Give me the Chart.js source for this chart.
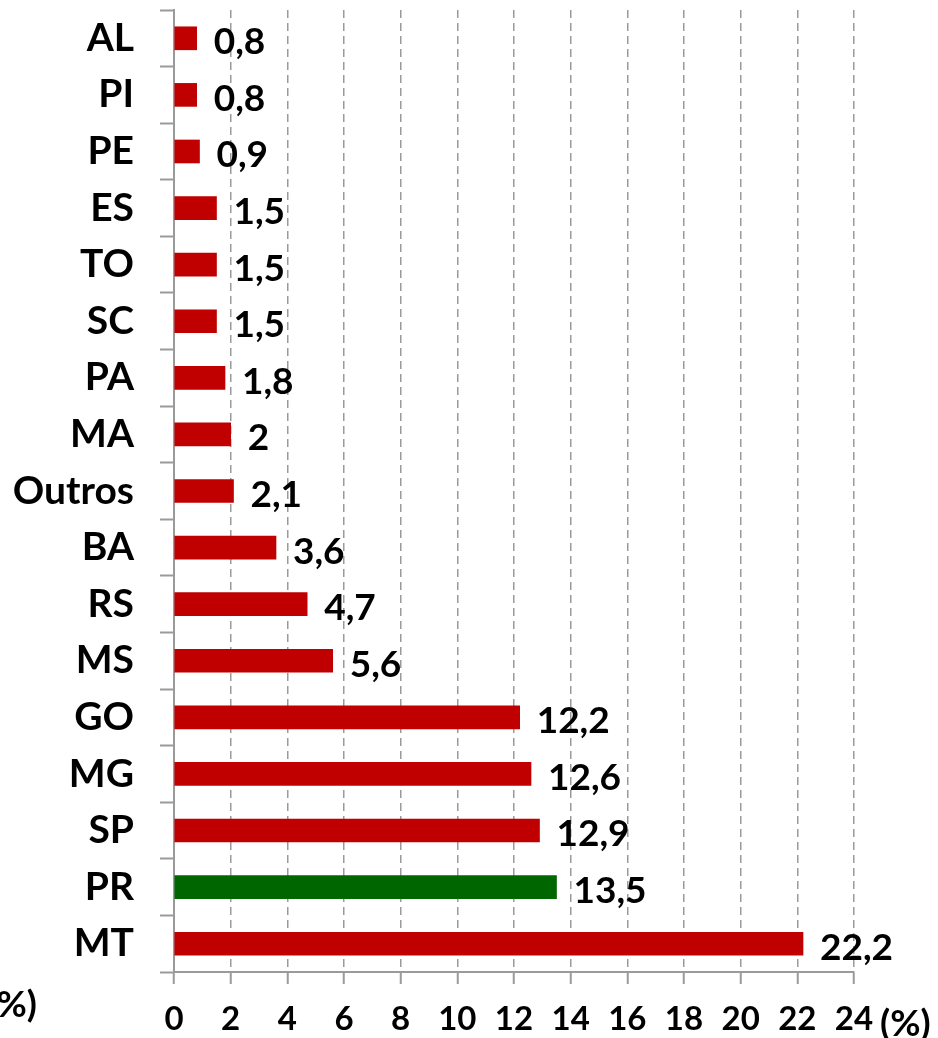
<!DOCTYPE html>
<html>
<head>
<meta charset="utf-8">
<script src="https://cdn.jsdelivr.net/npm/chart.js@4/dist/chart.umd.min.js"></script>
<style>
  html, body { margin: 0; padding: 0; background: #fff; }
  #wrap { width: 938px; height: 1038px; position: relative; }
</style>
</head>
<body>
<div id="wrap"><canvas id="myChart" width="938" height="1038"></canvas></div>
<script>
const states = ["AL", "PI", "PE", "ES", "TO", "SC", "PA", "MA", "Outros", "BA", "RS", "MS", "GO", "MG", "SP", "PR", "MT"];
const shares = [0.8, 0.8, 0.9, 1.5, 1.5, 1.5, 1.8, 2, 2.1, 3.6, 4.7, 5.6, 12.2, 12.6, 12.9, 13.5, 22.2];
const highlight = "PR";
const xMax = 24;
const xStep = 2;

const red = "#C00000";
const green = "#006600";
const gridGray = "#9a9a9a";
const fontFamily = "Lato, 'Open Sans', sans-serif";

const barColors = states.map((s) => (s === highlight ? green : red));

// value labels at the end of each bar, decimal comma
const valueLabels = {
  id: "valueLabels",
  afterDatasetsDraw(chart) {
    const ctx = chart.ctx;
    const meta = chart.getDatasetMeta(0);
    ctx.save();
    ctx.font = "bold 37px " + fontFamily;
    ctx.fillStyle = "#000";
    ctx.textAlign = "left";
    ctx.textBaseline = "middle";
    meta.data.forEach((bar, i) => {
      const txt = String(shares[i]).replace(".", ",");
      ctx.fillText(txt, bar.x + 17, bar.y + 4);
    });
    ctx.restore();
  },
};

// "(%)" unit text next to the axis, plus the clipped one on the left
const unitLabels = {
  id: "unitLabels",
  afterDraw(chart) {
    const ctx = chart.ctx;
    ctx.save();
    ctx.font = "bold 37px " + fontFamily;
    ctx.fillStyle = "#000";
    ctx.textBaseline = "middle";
    ctx.textAlign = "left";
    ctx.fillText("(%)", 880, 1024);
    ctx.textAlign = "right";
    ctx.fillText("(%)", 37, 1005);
    ctx.restore();
  },
};

const ctx = document.getElementById("myChart").getContext("2d");
const myChart = new Chart(ctx, {
  type: "bar",
  data: {
    labels: states,
    datasets: [
      {
        data: shares,
        backgroundColor: barColors,
        borderWidth: 0,
        barThickness: 23,
      },
    ],
  },
  options: {
    indexAxis: "y",
    responsive: false,
    animation: false,
    layout: { padding: { top: 10, right: 84, left: 0, bottom: 0 } },
    plugins: {
      legend: { display: false },
      tooltip: { enabled: false },
    },
    scales: {
      x: {
        min: 0,
        max: xMax,
        afterFit: (scale) => {
          scale.height = 66;
          scale.paddingLeft = 0;
          scale.paddingRight = 0;
        },
        ticks: {
          stepSize: xStep,
          color: "#000",
          font: { family: fontFamily, size: 33, weight: "bold" },
          padding: 16,
          maxRotation: 0,
        },
        grid: {
          color: gridGray,
          lineWidth: 1.5,
          tickLength: 12,
          tickColor: gridGray,
          tickWidth: 2,
          tickBorderDash: [],
        },
        border: { color: gridGray, width: 2, dash: [8, 5] },
      },
      y: {
        afterFit: (scale) => {
          scale.width = 174;
          scale.paddingTop = 0;
          scale.paddingBottom = 0;
        },
        ticks: {
          color: "#000",
          font: { family: fontFamily, size: 39, weight: "bold" },
          padding: 26,
        },
        grid: {
          offset: true,
          drawOnChartArea: false,
          tickLength: 14,
          tickColor: gridGray,
          tickWidth: 2,
        },
        border: { color: gridGray, width: 2 },
      },
    },
  },
  plugins: [valueLabels, unitLabels],
});
</script>
</body>
</html>
